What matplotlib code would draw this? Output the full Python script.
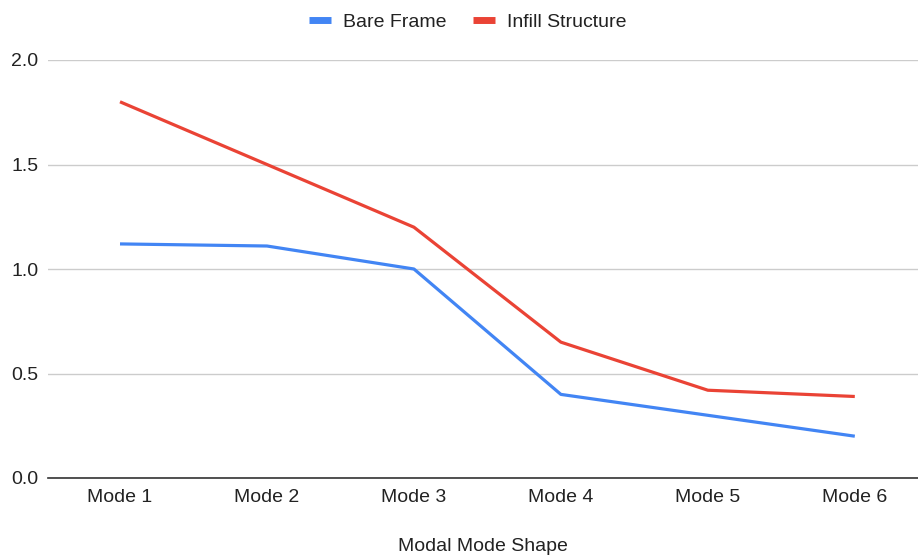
import matplotlib.pyplot as plt

plt.rcParams['font.family'] = ['Liberation Sans', 'DejaVu Sans']

modes = ['Mode 1', 'Mode 2', 'Mode 3', 'Mode 4', 'Mode 5', 'Mode 6']
bare_frame = [1.12, 1.11, 1.00, 0.40, 0.30, 0.20]
infill = [1.80, 1.50, 1.20, 0.65, 0.42, 0.39]
y_ticks = [0.0, 0.5, 1.0, 1.5, 2.0]

fig = plt.figure(figsize=(9.18, 5.57), dpi=100)
ax = fig.add_axes([48 / 918, 1 - 478 / 557, 870 / 918, 418 / 557])

x = list(range(len(modes)))
ax.plot(x, bare_frame, color='#4285F4', lw=2.3, label='Bare Frame', solid_capstyle='butt')
ax.plot(x, infill, color='#EA4335', lw=2.3, label='Infill Structure', solid_capstyle='butt')

ax.set_xlim(-0.49, 5.43)
ax.set_ylim(0, 2.0)
ax.set_yticks(y_ticks)
ax.set_yticklabels(['%.1f' % v for v in y_ticks])
ax.set_xticks(x)
ax.set_xticklabels(modes)
ax.tick_params(length=0, labelsize=14, colors='#222222')
ax.tick_params(axis='y', pad=7)
ax.tick_params(axis='x', pad=8)

ax.grid(axis='y', color='#cccccc', lw=1)
ax.set_axisbelow(True)
for s in ['top', 'right', 'left']:
    ax.spines[s].set_visible(False)
ax.spines['bottom'].set_color('#333333')
ax.spines['bottom'].set_linewidth(1.2)

ax.set_xlabel('Modal Mode Shape', fontsize=14, color='#222222', labelpad=23)

leg = fig.legend(loc='center', bbox_to_anchor=(468 / 918, 1 - 22 / 557), ncol=2,
                 frameon=False, fontsize=14, handlelength=1.1, handletextpad=0.65,
                 columnspacing=1.35, labelcolor='#222222')
for h in leg.legend_handles:
    h.set_linewidth(5)

fig.savefig('out.png', dpi=100)
